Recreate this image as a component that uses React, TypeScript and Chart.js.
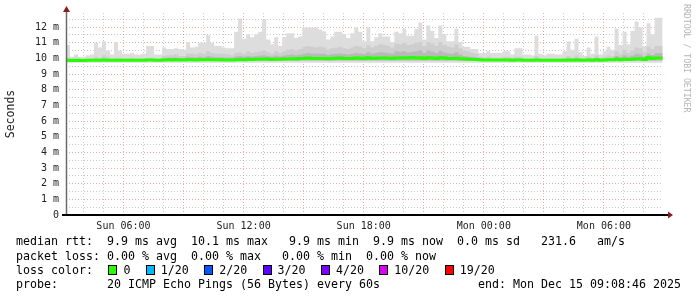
import React, { useEffect, useRef } from 'react';
import { Chart, registerables } from 'chart.js';

Chart.register(...registerables);

// ---- time grid (hours since Sun 00:00) ----
const START_HOUR = 3.13;
const STEP_HOURS = 0.2;
const X_MIN = 3.13;
const X_MAX = 32.95;
const Y_MAX = 12.9;
const SMOKE_FLOOR = 9.72;
const BAND_FLOOR = 9.86;

// ---- smoke: top of the lightest band (max ping), ms ----
const smokeMax = [
  10.5, 10.85, 10.1, 10.25, 10.1, 10.1, 10.2, 10.25, 11.0, 10.7,
  11.1, 10.5, 10.25, 11.05, 10.5, 10.3, 10.3, 10.35, 10.25, 10.25,
  10.3, 10.8, 10.8, 10.25, 10.25, 10.7, 10.6, 10.6, 10.65, 10.6,
  10.55, 11.05, 10.7, 10.75, 11.0, 11.0, 11.5, 11.0, 10.8, 10.8,
  10.7, 10.65, 10.65, 11.7, 12.55, 11.25, 11.55, 11.35, 11.55, 11.7,
  12.5, 11.2, 10.9, 11.35, 10.8, 11.35, 11.6, 11.6, 11.3, 11.4,
  11.97, 11.97, 11.97, 11.97, 11.85, 11.7, 11.2, 11.4, 11.7, 11.7,
  11.55, 11.3, 11.6, 11.97, 11.7, 11.1, 11.97, 11.1, 11.35, 11.6,
  11.4, 11.4, 11.05, 11.7, 11.6, 11.9, 11.45, 11.45, 11.9, 12.3,
  11.2, 12.1, 11.75, 11.3, 12.1, 11.55, 11.1, 11.1, 11.9, 11.05,
  10.75, 10.75, 10.6, 10.6, 10.35, 10.35, 10.45, 10.35, 10.35, 10.35,
  10.45, 10.45, 10.25, 10.65, 10.65, 10.25, 10.25, 10.2, 11.45, 10.3,
  10.2, 10.3, 10.3, 10.25, 10.25, 10.45, 11.1, 10.55, 11.25, 10.4,
  10.15, 10.7, 10.3, 11.4, 10.25, 10.45, 10.75, 10.55, 11.9, 10.85,
  11.7, 10.9, 11.75, 12.35, 11.97, 10.8, 12.25, 11.55, 12.6,
];

// ---- smoke: top of the middle band, ms ----
const smokeMid = [
  10.0, 10.05, 9.98, 10.0, 9.98, 9.98, 10.0, 10.0, 10.1, 10.05,
  10.2, 10.1, 10.0, 10.05, 10.05, 10.0, 10.0, 10.05, 10.0, 10.0,
  10.0, 10.05, 10.05, 10.0, 10.0, 10.15, 10.2, 10.2, 10.25, 10.15,
  10.15, 10.3, 10.3, 10.25, 10.35, 10.3, 10.45, 10.35, 10.3, 10.3,
  10.3, 10.25, 10.2, 10.35, 10.4, 10.3, 10.45, 10.35, 10.4, 10.45,
  10.5, 10.4, 10.3, 10.45, 10.35, 10.45, 10.55, 10.6, 10.5, 10.6,
  10.75, 10.8, 10.75, 10.7, 10.75, 10.7, 10.55, 10.65, 10.7, 10.75,
  10.65, 10.6, 10.7, 10.8, 10.75, 10.65, 10.85, 10.7, 10.8, 10.9,
  10.85, 10.8, 10.7, 10.95, 10.9, 11.0, 10.85, 10.9, 11.0, 11.05,
  10.8, 11.05, 10.95, 10.8, 11.05, 10.85, 10.75, 10.7, 10.9, 10.65,
  10.5, 10.45, 10.35, 10.3, 10.1, 10.05, 10.1, 10.05, 10.05, 10.05,
  10.1, 10.1, 10.05, 10.1, 10.1, 10.0, 10.0, 10.0, 10.15, 10.0,
  9.98, 10.0, 10.0, 10.0, 10.0, 10.05, 10.15, 10.05, 10.2, 10.05,
  10.0, 10.1, 10.05, 10.2, 10.05, 10.1, 10.2, 10.15, 10.45, 10.3,
  10.55, 10.35, 10.5, 10.7, 10.65, 10.4, 10.75, 10.6, 10.8,
];

// ---- smoke: top of the darkest band, ms ----
const smokeDark = [
  9.95, 9.97, 9.94, 9.95, 9.94, 9.94, 9.95, 9.95, 9.98, 9.97,
  10.0, 9.97, 9.95, 9.97, 9.97, 9.95, 9.95, 9.96, 9.95, 9.95,
  9.95, 9.97, 9.97, 9.95, 9.96, 10.02, 10.05, 10.05, 10.06, 10.03,
  10.03, 10.1, 10.08, 10.06, 10.1, 10.08, 10.15, 10.1, 10.08, 10.08,
  10.06, 10.05, 10.05, 10.12, 10.15, 10.1, 10.15, 10.12, 10.15, 10.18,
  10.2, 10.15, 10.12, 10.18, 10.12, 10.18, 10.22, 10.25, 10.2, 10.25,
  10.3, 10.35, 10.32, 10.3, 10.32, 10.3, 10.22, 10.28, 10.3, 10.32,
  10.28, 10.25, 10.3, 10.35, 10.32, 10.28, 10.4, 10.3, 10.35, 10.4,
  10.38, 10.35, 10.3, 10.45, 10.42, 10.45, 10.38, 10.42, 10.45, 10.5,
  10.35, 10.5, 10.42, 10.35, 10.48, 10.38, 10.32, 10.3, 10.4, 10.25,
  10.15, 10.12, 10.08, 10.05, 9.98, 9.97, 9.98, 9.97, 9.97, 9.97,
  9.98, 9.98, 9.96, 9.98, 9.98, 9.95, 9.95, 9.95, 10.0, 9.95,
  9.94, 9.95, 9.95, 9.95, 9.95, 9.96, 10.0, 9.96, 10.02, 9.96,
  9.95, 9.98, 9.96, 10.02, 9.96, 9.98, 10.03, 10.02, 10.15, 10.08,
  10.2, 10.1, 10.18, 10.3, 10.25, 10.12, 10.3, 10.22, 10.35,
];

// ---- median rtt, ms ----
const medianRtt = [
  9.88, 9.88, 9.87, 9.88, 9.87, 9.87, 9.88, 9.88, 9.89, 9.88,
  9.9, 9.88, 9.88, 9.88, 9.89, 9.88, 9.88, 9.89, 9.88, 9.88,
  9.89, 9.9, 9.9, 9.88, 9.89, 9.9, 9.91, 9.9, 9.92, 9.9,
  9.9, 9.92, 9.91, 9.9, 9.92, 9.91, 9.93, 9.92, 9.91, 9.91,
  9.9, 9.9, 9.9, 9.92, 9.93, 9.92, 9.94, 9.93, 9.94, 9.95,
  9.96, 9.94, 9.93, 9.95, 9.94, 9.96, 9.97, 9.98, 9.97, 9.99,
  10.0, 10.02, 10.0, 9.99, 10.0, 10.0, 9.98, 10.0, 10.01, 10.02,
  10.0, 9.99, 10.0, 10.02, 10.01, 9.99, 10.04, 10.0, 10.01, 10.03,
  10.02, 10.01, 10.0, 10.03, 10.02, 10.04, 10.02, 10.06, 10.03, 10.05,
  10.0, 10.04, 10.03, 10.0, 10.04, 10.02, 10.0, 9.99, 10.01, 9.98,
  9.96, 9.95, 9.94, 9.93, 9.91, 9.9, 9.9, 9.9, 9.9, 9.9,
  9.9, 9.9, 9.89, 9.9, 9.9, 9.89, 9.89, 9.89, 9.9, 9.89,
  9.88, 9.89, 9.89, 9.89, 9.89, 9.89, 9.9, 9.89, 9.9, 9.89,
  9.88, 9.9, 9.89, 9.91, 9.89, 9.9, 9.91, 9.91, 9.94, 9.92,
  9.95, 9.93, 9.95, 9.98, 9.97, 9.93, 10.05, 10.0, 10.02,
];

// ---- axes ----
const hourTicks = [4, 5, 6, 7, 8, 9, 10, 11, 12, 13, 14, 15, 16, 17, 18, 19, 20, 21, 22, 23, 24, 25, 26, 27, 28, 29, 30, 31, 32];
const majorHours = [6, 9, 12, 15, 18, 21, 24, 27, 30];
const labelHours = [6, 12, 18, 24, 30];
const timeLabels = ['Sun 06:00', 'Sun 12:00', 'Sun 18:00', 'Mon 00:00', 'Mon 06:00'];
const yTicks = [0, 0.5, 1, 1.5, 2, 2.5, 3, 3.5, 4, 4.5, 5, 5.5, 6, 6.5, 7, 7.5, 8, 8.5, 9, 9.5, 10, 10.5, 11, 11.5, 12, 12.5];
const yLabelValues = [0, 1, 2, 3, 4, 5, 6, 7, 8, 9, 10, 11, 12];
const yLabels = ['0', '1 m', '2 m', '3 m', '4 m', '5 m', '6 m', '7 m', '8 m', '9 m', '10 m', '11 m', '12 m'];

// ---- legend text ----
const statRows = [
  'median rtt:  9.9 ms avg  10.1 ms max   9.9 ms min  9.9 ms now  0.0 ms sd   231.6   am/s',
  'packet loss: 0.00 % avg  0.00 % max   0.00 % min  0.00 % now',
];
const lossLabels = ['0', '1/20', '2/20', '3/20', '4/20', '10/20', '19/20'];
const lossColors = ['#26ff00', '#00b8ff', '#0059ff', '#5e00ff', '#7e00ff', '#dd00ff', '#ff0000'];
const probeRow = 'probe:       20 ICMP Echo Pings (56 Bytes) every 60s              end: Mon Dec 15 09:08:46 2025';
const watermark = 'RRDTOOL / TOBI OETIKER';

const MONO = '"DejaVu Sans Mono", "Liberation Mono", monospace';
const MAJOR_GRID = 'rgba(215, 110, 110, 0.55)';
const MINOR_GRID = 'rgba(150, 150, 150, 0.5)';

function toPoints(arr: number[]) {
  const pts = arr.map((v, i) => ({ x: START_HOUR + i * STEP_HOURS, y: v }));
  pts.push({ x: START_HOUR + arr.length * STEP_HOURS, y: arr[arr.length - 1] });
  return pts;
}

const axesPlugin = {
  id: 'rrdAxes',
  afterDraw(chart: any) {
    const { ctx, chartArea } = chart;
    const { left, right, top, bottom } = chartArea;
    ctx.save();
    ctx.strokeStyle = '#6a6a6a';
    ctx.lineWidth = 1.5;
    ctx.beginPath();
    ctx.moveTo(left + 0.5, bottom);
    ctx.lineTo(left + 0.5, top - 1);
    ctx.stroke();
    ctx.strokeStyle = '#000';
    ctx.lineWidth = 2;
    ctx.beginPath();
    ctx.moveTo(left - 4, bottom);
    ctx.lineTo(right + 5, bottom);
    ctx.stroke();
    ctx.fillStyle = '#8b1c1c';
    ctx.beginPath();
    ctx.moveTo(left - 3, top - 1);
    ctx.lineTo(left + 4, top - 1);
    ctx.lineTo(left + 0.5, top - 7);
    ctx.closePath();
    ctx.fill();
    ctx.beginPath();
    ctx.moveTo(right + 5, bottom - 3.5);
    ctx.lineTo(right + 5, bottom + 3.5);
    ctx.lineTo(right + 10, bottom);
    ctx.closePath();
    ctx.fill();
    ctx.restore();
  },
};

export default function App() {
  const ref = useRef<HTMLCanvasElement | null>(null);

  useEffect(() => {
    if (!ref.current) return;
    const chart = new Chart(ref.current, {
      type: 'line',
      data: {
        datasets: [
          {
            label: 'median',
            data: toPoints(medianRtt),
            stepped: 'after',
            borderColor: lossColors[0],
            borderWidth: 3,
            pointRadius: 0,
            fill: false,
            order: 0,
          },
          {
            label: 'dark',
            data: toPoints(smokeDark),
            stepped: 'after',
            borderColor: 'rgba(0,0,0,0)',
            borderWidth: 1,
            backgroundColor: '#b9b9b9',
            pointRadius: 0,
            fill: { value: BAND_FLOOR },
            order: 1,
          },
          {
            label: 'mid',
            data: toPoints(smokeMid),
            stepped: 'after',
            borderColor: 'rgba(0,0,0,0)',
            borderWidth: 1,
            backgroundColor: '#cecece',
            pointRadius: 0,
            fill: { value: BAND_FLOOR },
            order: 2,
          },
          {
            label: 'max',
            data: toPoints(smokeMax),
            stepped: 'after',
            borderColor: 'rgba(0,0,0,0)',
            borderWidth: 1,
            backgroundColor: '#dddddd',
            pointRadius: 0,
            fill: { value: SMOKE_FLOOR },
            order: 3,
          },
        ] as any,
      },
      options: {
        responsive: false,
        animation: false,
        events: [],
        layout: { padding: { top: 13, right: 34, left: 0, bottom: 0 } },
        plugins: { legend: { display: false }, tooltip: { enabled: false } },
        scales: {
          x: {
            type: 'linear',
            min: X_MIN,
            max: X_MAX,
            z: 1,
            afterBuildTicks: (s: any) => {
              s.ticks = hourTicks.map((v) => ({ value: v }));
            },
            afterFit: (s: any) => {
              s.height = 82;
            },
            grid: {
              color: (c: any) => (majorHours.includes(c.tick?.value) ? MAJOR_GRID : MINOR_GRID),
              lineWidth: 1,
              drawTicks: false,
            },
            border: { display: false, dash: [1, 2] },
            ticks: {
              autoSkip: false,
              maxRotation: 0,
              padding: 5,
              color: '#222',
              font: { family: MONO, size: 10 },
              callback: (v: any) => {
                const idx = labelHours.indexOf(Number(v));
                return idx >= 0 ? timeLabels[idx] : '';
              },
            },
          },
          y: {
            type: 'linear',
            min: 0,
            max: Y_MAX,
            z: 1,
            afterBuildTicks: (s: any) => {
              s.ticks = yTicks.map((v) => ({ value: v }));
            },
            afterFit: (s: any) => {
              s.width = 66;
            },
            grid: {
              color: (c: any) => (Number.isInteger(c.tick?.value) ? MAJOR_GRID : MINOR_GRID),
              lineWidth: 1,
              drawTicks: false,
            },
            border: { display: false, dash: [1, 2] },
            ticks: {
              autoSkip: false,
              padding: 7,
              color: '#222',
              font: { family: MONO, size: 10 },
              callback: (v: any) => {
                const idx = yLabelValues.indexOf(Number(v));
                return idx >= 0 ? yLabels[idx] : '';
              },
            },
            title: {
              display: true,
              text: 'Seconds',
              color: '#222',
              font: { family: MONO, size: 11.5 },
              padding: { top: 4, bottom: 4 },
            },
          },
        },
      } as any,
      plugins: [axesPlugin],
    });
    return () => chart.destroy();
  }, []);

  const textStyle: React.CSSProperties = {
    position: 'absolute',
    left: 16,
    fontFamily: MONO,
    fontSize: 11.63,
    lineHeight: '14px',
    whiteSpace: 'pre',
    color: '#000',
  };

  return (
    <div style={{ position: 'absolute', left: 0, top: 0, width: 697, height: 297, background: '#fff', overflow: 'hidden' }}>
      <canvas ref={ref} width={697} height={297} style={{ position: 'absolute', left: 0, top: 0, width: 697, height: 297 }} />
      <div
        style={{
          position: 'absolute',
          left: 682,
          top: 4,
          writingMode: 'vertical-rl',
          fontFamily: MONO,
          fontSize: 8.2,
          lineHeight: '10px',
          color: '#b4b4b4',
          whiteSpace: 'pre',
        }}
      >
        {watermark}
      </div>
      <div style={{ ...textStyle, top: 234 }}>{statRows[0]}</div>
      <div style={{ ...textStyle, top: 248.5 }}>{statRows[1]}</div>
      <div style={{ ...textStyle, top: 262.5, display: 'flex', alignItems: 'center' }}>
        <span>loss color:</span>
        {lossLabels.map((lab, i) => (
          <React.Fragment key={lab}>
            <span
              style={{
                display: 'inline-block',
                boxSizing: 'border-box',
                width: 9,
                height: 10,
                marginLeft: 15.4,
                background: lossColors[i],
                border: '1px solid #000',
              }}
            />
            <span style={{ marginLeft: 6 }}>{lab}</span>
          </React.Fragment>
        ))}
      </div>
      <div style={{ ...textStyle, top: 277 }}>{probeRow}</div>
    </div>
  );
}
